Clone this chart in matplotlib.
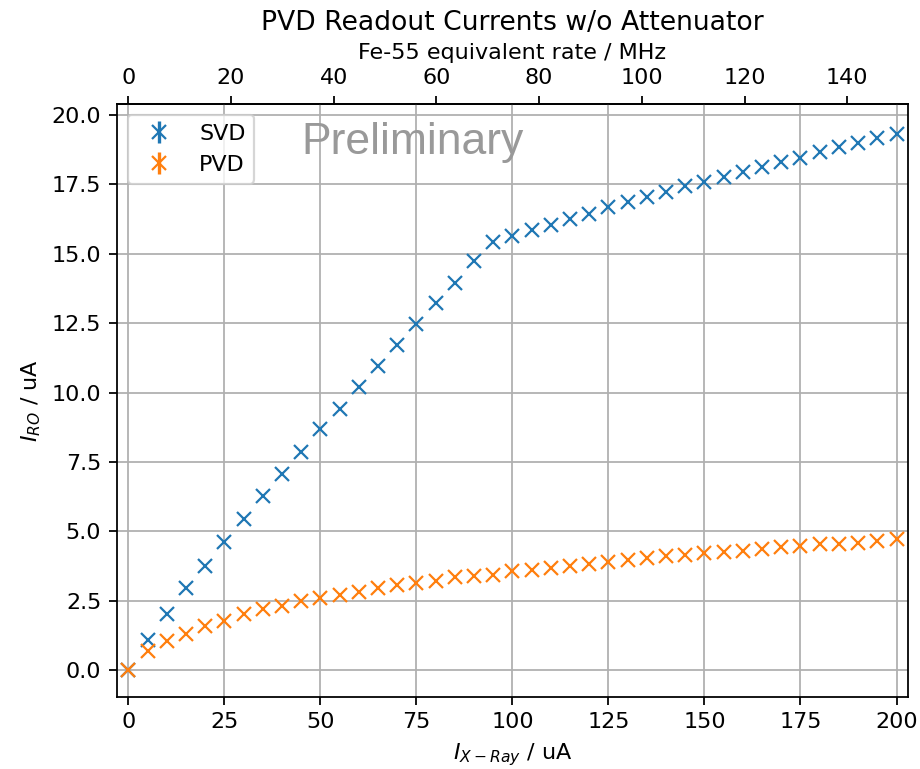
import numpy as np
import matplotlib
matplotlib.use("Agg")
import matplotlib.pyplot as plt

# X-ray tube current (uA)
I_XRAY = [0, 5, 10, 15, 20, 25, 30, 35, 40, 45, 50, 55, 60, 65, 70, 75, 80,
          85, 90, 95, 100, 105, 110, 115, 120, 125, 130, 135, 140, 145, 150,
          155, 160, 165, 170, 175, 180, 185, 190, 195, 200]

# readout currents (uA)
SVD = [0.0, 1.10, 2.02, 2.95, 3.77, 4.63, 5.45, 6.26, 7.07, 7.87, 8.68, 9.42,
       10.22, 10.96, 11.72, 12.48, 13.21, 13.95, 14.73, 15.42, 15.64, 15.87,
       16.04, 16.27, 16.44, 16.68, 16.85, 17.03, 17.21, 17.44, 17.58, 17.76,
       17.94, 18.11, 18.29, 18.46, 18.65, 18.83, 19.00, 19.17, 19.33]
PVD = [0.0, 0.68, 1.04, 1.32, 1.61, 1.78, 2.02, 2.21, 2.32, 2.49, 2.60, 2.70,
       2.82, 2.95, 3.06, 3.13, 3.23, 3.35, 3.39, 3.44, 3.59, 3.63, 3.67, 3.77,
       3.84, 3.91, 3.99, 4.06, 4.13, 4.17, 4.23, 4.26, 4.31, 4.37, 4.44, 4.48,
       4.54, 4.56, 4.60, 4.65, 4.73]

# top axis: Fe-55 equivalent rate (MHz)
TOP_TICKS = [0, 20, 40, 60, 80, 100, 120, 140]
MHZ_PER_UA = 0.748


def main():
    fig = plt.figure(figsize=(920 / 160, 769 / 160), dpi=160)
    ax = fig.add_axes([0.127, 0.094, 0.860, 0.771])

    ax.errorbar(I_XRAY, SVD, yerr=0, fmt="x", label="SVD")
    ax.errorbar(I_XRAY, PVD, yerr=0, fmt="x", label="PVD")

    ax.set_xlim(-3, 203)
    ax.set_ylim(-0.95, 20.4)
    ax.grid(True)
    ax.set_xlabel("$I_{X-Ray}$ / uA")
    ax.set_ylabel("$I_{RO}$ / uA")
    ax.legend(loc="upper left")

    top = ax.secondary_xaxis("top", functions=(lambda x: x * MHZ_PER_UA,
                                               lambda x: x / MHZ_PER_UA))
    top.set_xticks(TOP_TICKS)
    top.set_xlabel("Fe-55 equivalent rate / MHz")
    ax.set_title("PVD Readout Currents w/o Attenuator")

    ax.text(0.374, 0.934, "Preliminary", transform=ax.transAxes,
            ha="center", va="center", fontsize=20, color="#999999",
            family="Liberation Sans")

    fig.savefig("out.png", dpi=160)
    plt.close(fig)


if __name__ == "__main__":
    main()
